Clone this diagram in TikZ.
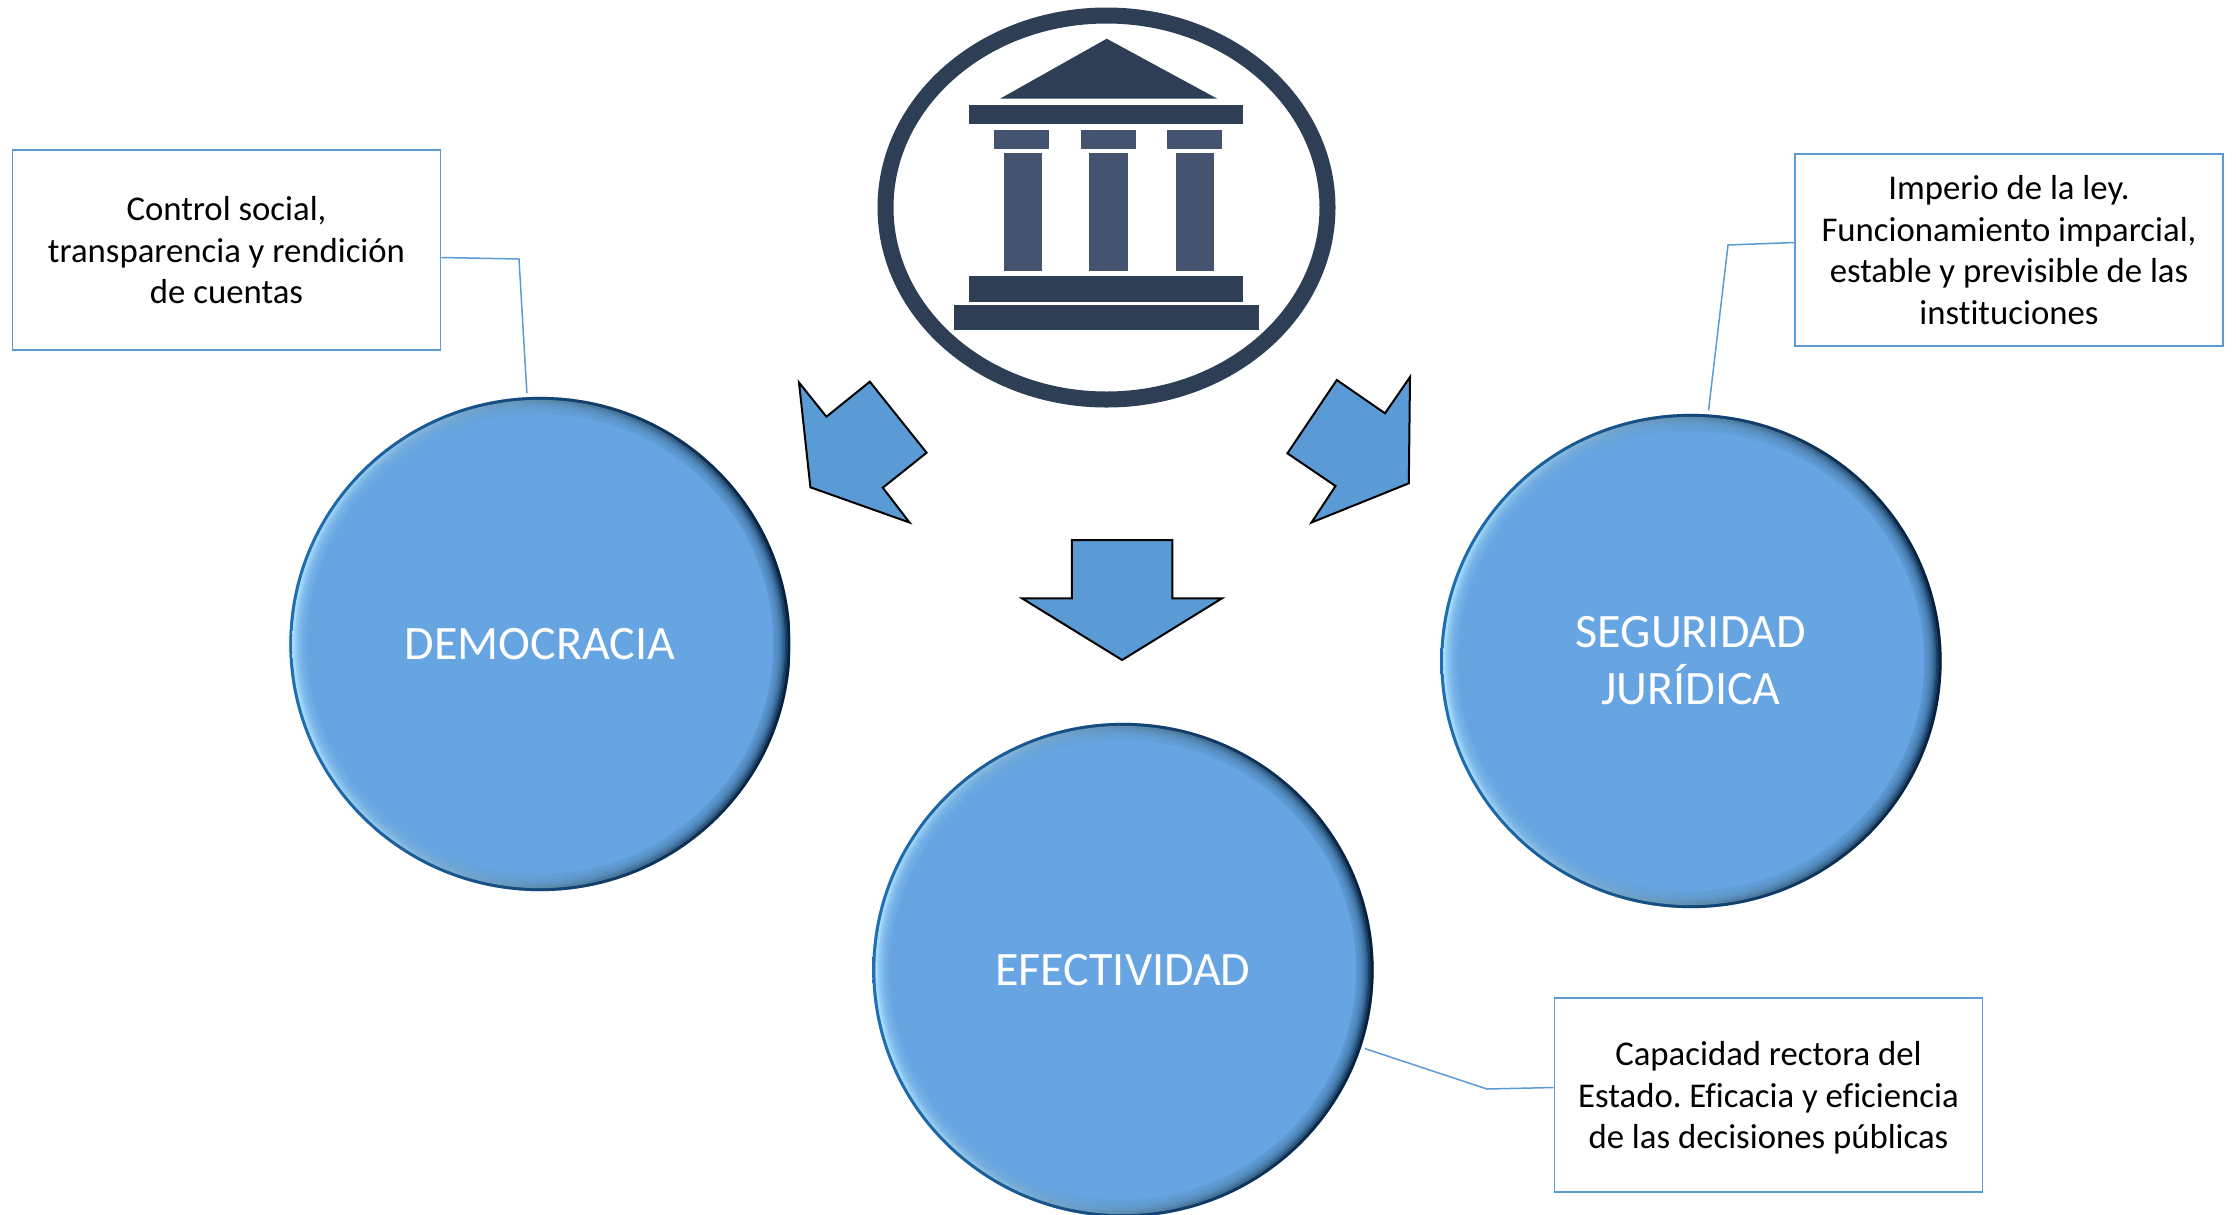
\documentclass[tikz,border=0pt]{standalone}
\usepackage{fontspec}
\setmainfont[Ligatures=CommonOff]{Carlito}
\usetikzlibrary{shapes.geometric}
\definecolor{ballblue}{HTML}{66A5E2}
\definecolor{arrowblue}{HTML}{5B9BD5}
\definecolor{logodark}{HTML}{2D3E55}
\definecolor{logolight}{HTML}{435370}
\definecolor{rimlight}{HTML}{1E6FB4}
\definecolor{rimmid}{HTML}{2A6EA8}
\definecolor{rimdark}{HTML}{0B1F3A}
\definecolor{glowlight}{HTML}{A5DCFF}
\definecolor{glowdark}{HTML}{173F66}
\tikzset{
	ball/.style={ellipse, inner sep=0, outer sep=0.04cm, minimum width=5.01cm, minimum height=4.94cm,
		fill=ballblue, text=white, align=center, font=\fontsize{13.65}{16.2}\selectfont,
		path picture={
			\shade[shading angle=135, left color=rimlight, middle color=rimmid, right color=rimdark]
				(path picture bounding box.center) ellipse (2.505cm and 2.47cm);
			\shade[shading angle=135, left color=glowlight, middle color=ballblue, right color=glowdark]
				(path picture bounding box.center) ellipse (2.475cm and 2.44cm);
			\foreach \r in {2.45, 2.43, 2.41, 2.39, 2.37, 2.35}
				\fill[ballblue, opacity=0.28] (path picture bounding box.center) ellipse ({\r cm} and {\r cm - 0.035cm});
			\fill[ballblue] (path picture bounding box.center) ellipse (2.33cm and 2.295cm);
		}},
	notebox/.style={draw=arrowblue, line width=0.15mm, fill=white, inner sep=0, minimum width=4.28cm, align=center,
		font=\fontsize{9.88}{11.8}\selectfont\frenchspacing, text depth=#1},
	notebox/.default=0pt,
	blockarrow/.style={draw=black, line width=0.2mm, fill=arrowblue, line join=miter},
	leader/.style={draw=arrowblue, line width=0.15mm},
	logopart/.style={fill=logodark, draw=none}
}

\begin{document}
\begin{tikzpicture}[x=0.01cm, y=-0.01cm]
	%%%%% START %%%%%
	\useasboundingbox (0, 0) rectangle (2236, 1214);
	
	% temple
	\draw[line width=0.16cm, color=logodark] (1106.5, 207.5) ellipse (221 and 192);
	\fill[logopart] (1000, 98.7) -- (1106.7, 38.7) -- (1217.3, 98.7) -- cycle;
	\fill[logopart] (969.3, 104.7) rectangle (1243.3, 124);
	\foreach \capx/\colx in {994.3/1003.7, 1081/1089, 1167/1175.7} {
		\fill[logopart, fill=logolight] (\capx, 130) rectangle +(55, 19.3);
		\fill[logopart, fill=logolight] (\colx, 153.3) rectangle +(38.5, 117.4);
	}
	\fill[logopart] (969.3, 276) rectangle (1243.3, 301.7);
	\fill[logopart] (954.3, 305.3) rectangle (1259, 329.7);
	
	% arrows
	\draw[blockarrow] (799, 382.5) -- (826.4, 416.7) -- (869.8, 381.7) -- (926.6, 452.7) -- (882.8, 487.7) -- (909.5, 522.5) -- (810.4, 487.3) -- cycle;
	\draw[blockarrow] (1410, 377) -- (1385, 413.3) -- (1336.8, 380) -- (1287.4, 453.3) -- (1335.5, 486) -- (1311.5, 522.5) -- (1408.8, 483.3) -- cycle;
	\draw[blockarrow] (1071.8, 540) -- (1172.4, 540) -- (1172.4, 598.3) -- (1222, 598.3) -- (1122.1, 660) -- (1022, 598.3) -- (1071.8, 598.3) -- cycle;
	
	% circles
	\node[ball] (democracia) at (540, 644) {DEMOCRACIA};
	\node[ball] (seguridad) at (1691, 661) {SEGURIDAD\\JURÍDICA};
	\node[ball] (efectividad) at (1123, 970) {EFECTIVIDAD};
	
	% notes
	\node[notebox=-1pt, minimum height=2cm] (control) at (226.5, 250) {Control social,\\transparencia y rendición\\de cuentas};
	\node[notebox=-0.7pt, minimum height=1.92cm] (imperio) at (2009, 250) {Imperio de la ley.\\Funcionamiento imparcial,\\estable y previsible de las\\instituciones};
	\node[notebox=-0.4pt, minimum height=1.94cm] (capacidad) at (1768.5, 1095) {Capacidad rectora del\\Estado. Eficacia y eficiencia\\de las decisiones públicas};
	
	\coordinate (elbowcontrol) at (519, 259);
	\coordinate (elbowimperio) at (1728, 245);
	\coordinate (elbowcapacidad) at (1487, 1089);
	\draw[leader] (control.-2) -- (elbowcontrol) -- (democracia.93.5);
	\draw[leader] (imperio.178.9) -- (elbowimperio) -- (seguridad.86);
	\draw[leader] (capacidad.178.6) -- (elbowcapacidad) -- (efectividad.-18.3);
	%%%%% END %%%%%
\end{tikzpicture}
\end{document}
